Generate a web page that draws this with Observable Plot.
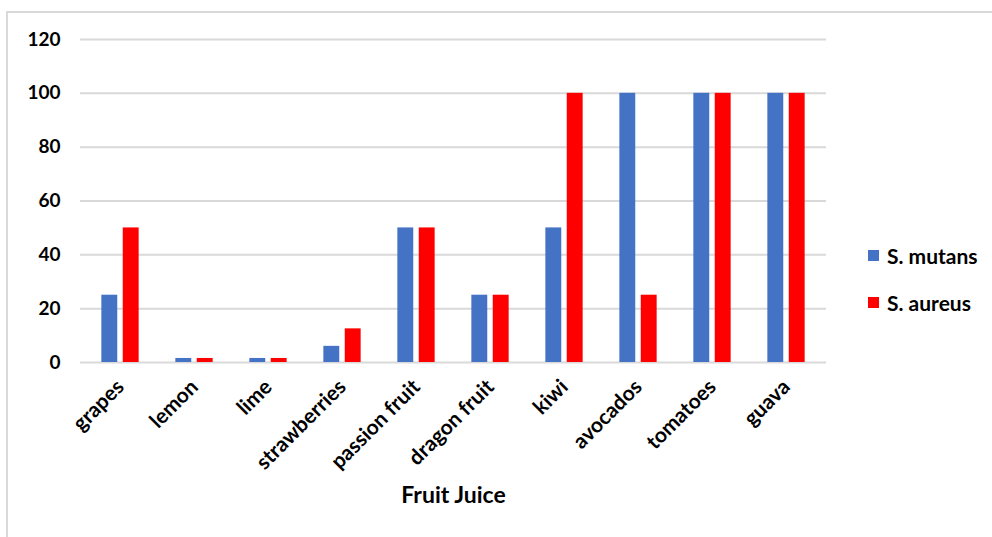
<!DOCTYPE html>
<html>
<head>
<meta charset="utf-8">
<script src="https://cdn.jsdelivr.net/npm/d3@7"></script>
<script src="https://cdn.jsdelivr.net/npm/@observablehq/plot@0.6"></script>
<style>
  html, body { margin: 0; padding: 0; background: #fff; }
  #wrap { position: relative; width: 992px; height: 537px; overflow: hidden; font-family: Lato, "Open Sans", sans-serif; }
  #frame { position: absolute; left: 6px; top: 11px; width: 1200px; height: 800px; border-top: 2px solid #d9d9d9; border-left: 2px solid #d9d9d9; }
  #legend { position: absolute; left: 868px; top: 243px; font-weight: bold; font-size: 21px; color: #000; }
  .item { display: flex; align-items: center; height: 24px; margin-bottom: 23px; }
  .sw { width: 11px; height: 11px; margin-right: 8px; }
  #chart { position: absolute; left: 0; top: 0; }
</style>
</head>
<body>
<div id="wrap">
  <div id="frame"></div>
  <div id="chart"></div>
  <div id="legend"></div>
</div>
<script>
const categories = ["grapes", "lemon", "lime", "strawberries", "passion fruit", "dragon fruit", "kiwi", "avocados", "tomatoes", "guava"];
const mutans = [25, 1.5, 1.5, 6, 50, 25, 50, 100, 100, 100];
const aureus = [50, 1.5, 1.5, 12.5, 50, 25, 100, 25, 100, 100];
const seriesNames = ["S. mutans", "S. aureus"];
const seriesColors = ["#4472C4", "#FF0000"];
const yTicks = [0, 20, 40, 60, 80, 100, 120];
const xTitle = "Fruit Juice";

const dataM = categories.map((c, i) => ({cat: c, value: mutans[i], series: seriesNames[0]}));
const dataA = categories.map((c, i) => ({cat: c, value: aureus[i], series: seriesNames[1]}));

const barW = 16.5;
const band = (826 - 80) / categories.length;
const inset = (band - barW) / 2;

const chart = Plot.plot({
  width: 992,
  height: 537,
  marginLeft: 80,
  marginRight: 166,
  marginTop: 39,
  marginBottom: 175,
  style: {fontFamily: "Lato, 'Open Sans', sans-serif", fontWeight: "bold", color: "#000", background: "transparent"},
  x: {domain: categories, padding: 0, label: null},
  y: {domain: [0, 120], label: null},
  marks: [
    Plot.gridY(yTicks, {stroke: "#d9d9d9", strokeOpacity: 1, strokeWidth: 2}),
    Plot.barY(dataM, {x: "cat", y: "value", fill: seriesColors[0], insetLeft: inset, insetRight: inset, dx: -10.7}),
    Plot.barY(dataA, {x: "cat", y: "value", fill: seriesColors[1], insetLeft: inset, insetRight: inset, dx: 10.7}),
    Plot.axisY(yTicks, {tickSize: 0, tickPadding: 20, fontSize: 19, fontWeight: "bold", label: null}),
    Plot.axisX({tickRotate: -45, tickSize: 0, tickPadding: 21, dx: 0, fontSize: 21, fontWeight: "bold", label: null}),
    Plot.text([xTitle], {frameAnchor: "bottom", dy: 140, fontSize: 23, fontWeight: "bold", fill: "#000"})
  ]
});
document.getElementById("chart").appendChild(chart);

const legend = document.getElementById("legend");
seriesNames.forEach((name, i) => {
  const item = document.createElement("div");
  item.className = "item";
  const sw = document.createElement("div");
  sw.className = "sw";
  sw.style.background = seriesColors[i];
  const t = document.createElement("span");
  t.textContent = name;
  item.appendChild(sw);
  item.appendChild(t);
  legend.appendChild(item);
});
</script>
</body>
</html>
